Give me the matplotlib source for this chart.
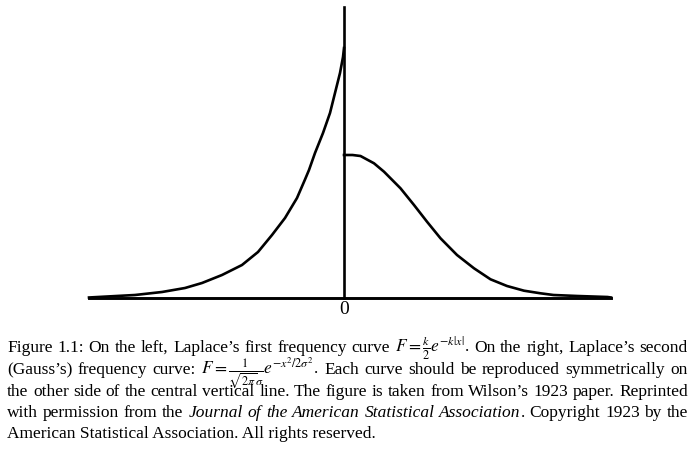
import matplotlib
matplotlib.use("Agg")
import matplotlib.pyplot as plt

plt.rcParams["font.family"] = ["Liberation Serif", "DejaVu Serif"]
plt.rcParams["mathtext.fontset"] = "stix"

# curves (x: distance from the centre line, y: height)
laplace_x = [-5.10, -4.92, -4.18, -3.64, -3.18, -2.84, -2.44, -2.04, -1.72, -1.44,
             -1.18, -0.94, -0.78, -0.70, -0.58, -0.42, -0.28, -0.18, -0.08, -0.02, 0.0]
laplace_y = [0.0, 0.005, 0.025, 0.055, 0.095, 0.145, 0.225, 0.325, 0.455, 0.625,
             0.795, 0.995, 1.18, 1.275, 1.445, 1.645, 1.845, 2.045, 2.245, 2.405, 2.495]
gauss_x = [0.0, 0.17, 0.33, 0.60, 0.80, 1.13, 1.40, 1.66, 1.93, 2.26, 2.60, 2.93,
           3.26, 3.60, 3.93, 4.19, 4.67, 5.27, 5.34]
gauss_y = [1.425, 1.425, 1.415, 1.342, 1.258, 1.092, 0.925, 0.758, 0.592, 0.425, 0.292,
           0.182, 0.115, 0.068, 0.042, 0.025, 0.015, 0.005, 0.0]
x_range = (-5.10, 5.34)
y_top = 2.905
centre_label = "0"

caption_lines = [
    r"Figure 1.1: On the left, Laplace’s first frequency curve $F=\frac{k}{2}e^{-k|x|}$. On the right, Laplace’s second",
    r"(Gauss’s) frequency curve: $F=\frac{1}{\sqrt{2\pi}\sigma}e^{-x^2/2\sigma^2}$. Each curve should be reproduced symmetrically on",
    "the other side of the central vertical line. The figure is taken from Wilson’s 1923 paper. Reprinted",
    "with permission from the *Journal* *of* *the* *American* *Statistical* *Association*. Copyright 1923 by the",
    "American Statistical Association. All rights reserved.",
]
caption_baselines = [352, 374, 395.5, 417, 438.5]

W, H = 691, 457
fig = plt.figure(figsize=(W / 100, H / 100), dpi=100)
ax = fig.add_axes([89 / W, (H - 297.5) / H, 522 / W, 290.5 / H])
ax.set_xlim(*x_range)
ax.set_ylim(0, y_top)
ax.axis("off")

lw = 1.9
ax.plot(laplace_x, laplace_y, color="black", lw=lw, solid_joinstyle="round", clip_on=False)
ax.plot(gauss_x, gauss_y, color="black", lw=lw, solid_joinstyle="round", clip_on=False)
ax.plot(x_range, [0, 0], color="black", lw=lw + 0.2, clip_on=False)
ax.plot([0, 0], [0, y_top], color="black", lw=lw, clip_on=False)
ax.text(0, -0.115, centre_label, ha="center", va="center", fontsize=14)

# justified caption
font_size = 12.5
left, right = 7, 688
renderer = fig.canvas.get_renderer()
for i, (line, base) in enumerate(zip(caption_lines, caption_baselines)):
    y = 1 - base / H
    if i == len(caption_lines) - 1:
        fig.text(left / W, y, line, fontsize=font_size, va="baseline", ha="left")
        continue
    words = []
    total = 0
    for word in line.split(" "):
        parts = []
        w = 0
        for k, seg in enumerate(word.split("*")):
            if not seg:
                continue
            t = fig.text(0, y, seg, fontsize=font_size, va="baseline", ha="left",
                         style="italic" if k % 2 else "normal")
            parts.append((t, w))
            w += t.get_window_extent(renderer).width
        words.append((parts, w))
        total += w
    gap = max((right - left - total) / (len(words) - 1), 2)
    x = left
    for parts, w in words:
        for t, off in parts:
            t.set_x((x + off) / W)
        x += w + gap

fig.savefig("out.png", dpi=100)
